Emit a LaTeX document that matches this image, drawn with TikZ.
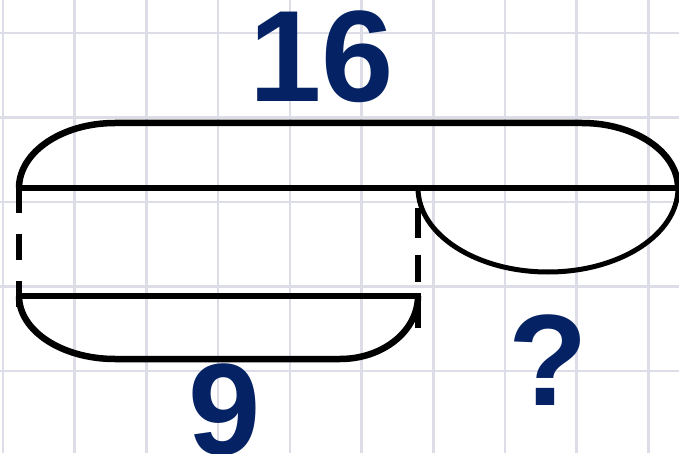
\documentclass[tikz,border=0pt]{standalone}
\usepackage{fontspec}
\setmainfont{Liberation Sans}
\definecolor{navy}{RGB}{4,34,100}
\definecolor{gridc}{RGB}{221,221,232}
\tikzset{
  gridline/.style={draw=gridc, line width=2.6pt},
  bar/.style={draw=black, line width=6.5pt, line cap=butt},
  thinbar/.style={draw=black, line width=5pt, line cap=butt},
  numlabel/.style={text=navy, inner sep=0pt, font=\fontsize{130}{130}\selectfont\bfseries},
}
\begin{document}
\begin{tikzpicture}[x=1pt,y=1pt]
\useasboundingbox (0,0) rectangle (679,453);
\fill[white] (0,0) rectangle (679,453);
\begin{scope}
\clip (0,0) rectangle (679,453);
\foreach \k in {0,...,9} {
  \draw[gridline] ({3+71.7*\k},0) -- ({3+71.7*\k},453);
}
\foreach \k in {0,...,4} {
  \draw[gridline] (0,{420-84.5*\k}) -- (679,{420-84.5*\k});
}
\end{scope}
% main horizontal line
\coordinate (mL) at (19,265);
\coordinate (mR) at (679,265);
\draw[bar] (mL) -- (mR);
% top bracket
\draw[bar] (19,265) arc[start angle=180, end angle=90, x radius=96, y radius=65]
  -- (582,330) arc[start angle=90, end angle=0, x radius=96, y radius=65];
% left dashed side
\draw[bar] (19,268) -- (19,240);
\draw[bar] (19,219) -- (19,193);
\draw[bar] (19,172) -- (19,146);
% lower line
\coordinate (lL) at (19,157);
\coordinate (lR) at (421,157);
\draw[bar] (lL) -- (lR);
% lower bracket
\draw[bar] (19,157) arc[start angle=180, end angle=270, x radius=96, y radius=63]
  -- (340,94) arc[start angle=270, end angle=360, x radius=78, y radius=63];
% right dashed side
\draw[bar] (418,245) -- (418,215);
\draw[bar] (418,198) -- (418,171);
\draw[bar] (418,159) -- (418,125);
% small right arc
\draw[thinbar] (418,265) arc[start angle=180, end angle=360, x radius=130, y radius=84];
% labels
\node[numlabel] (sixteen) at (322,396.5) {16};
\node[numlabel] (nine) at (225,43.5) {9};
\node[numlabel] (q) at (548,93) {?};
\end{tikzpicture}
\end{document}
